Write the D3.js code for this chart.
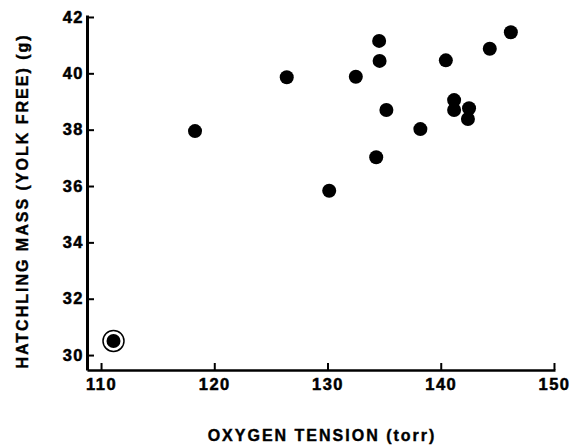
<!DOCTYPE html>
<html>
<head>
<meta charset="utf-8">
<script src="https://cdn.jsdelivr.net/npm/d3@7"></script>
<style>
  body { margin: 0; background: #fff; }
  .axis path, .axis line { stroke: #000; }
  .axis text { font-family: "Liberation Sans", Arial, sans-serif; font-weight: bold; font-size: 16.5px; fill: #000; stroke: #000; stroke-width: 0.5px; letter-spacing: 1.5px; }
  .label { font-family: "Liberation Sans", Arial, sans-serif; font-weight: bold; font-size: 16px; fill: #000; stroke: #000; stroke-width: 0.4px; letter-spacing: 2px; }
</style>
</head>
<body>
<div class="chart"></div>
<script>
// Hatchling mass vs oxygen tension
var oxygen = [118.3, 126.4, 130.15, 132.5, 134.3, 134.56, 134.6, 135.2, 138.2, 140.45, 141.18, 141.18, 142.4, 142.5, 144.33, 146.19];
var mass   = [37.95, 39.86, 35.83, 39.88, 37.02, 41.15, 40.44, 38.70, 38.02, 40.46, 39.05, 38.70, 38.38, 38.76, 40.87, 41.46];

// circled point
var circledOxygen = [111.1];
var circledMass = [30.5];

var xTicks = [110, 120, 130, 140, 150];
var yTicks = [30, 32, 34, 36, 38, 40, 42];

var svg_width = 572,
    svg_height = 445,
    svg = d3.select('.chart').append('svg').attr('width', svg_width).attr('height', svg_height),
    margin = {top: 15, right: 17, bottom: 75, left: 87},
    width = svg_width - margin.left - margin.right,
    height = svg_height - margin.top - margin.bottom;

var g = svg.append('g').attr('transform', 'translate(' + margin.left + ',' + margin.top + ')');

var x = d3.scaleLinear().domain([108.76, 150.09]).range([0, width]);
var y = d3.scaleLinear().domain([29.47, 42.07]).range([height, 0]);

var xAxis = g.append('g').attr('class', 'axis axis-x')
  .attr('transform', 'translate(0,' + height + ')')
  .call(d3.axisBottom(x).tickValues(xTicks).tickFormat(d3.format('d'))
    .tickSizeInner(-7).tickSizeOuter(0).tickPadding(8));
xAxis.select('.domain').attr('stroke-width', 2.5);
xAxis.selectAll('.tick line').attr('stroke-width', 2);

var yAxis = g.append('g').attr('class', 'axis axis-y')
  .call(d3.axisLeft(y).tickValues(yTicks).tickFormat(d3.format('d'))
    .tickSizeInner(-7).tickSizeOuter(0).tickPadding(3));
yAxis.select('.domain').attr('stroke-width', 3);
yAxis.selectAll('.tick line').attr('stroke-width', 2);

var points = oxygen.map(function(d, i) { return {o: d, m: mass[i]}; });

g.selectAll('.dot').data(points)
  .enter().append('circle')
  .attr('class', 'dot')
  .attr('cx', function(d) { return x(d.o); })
  .attr('cy', function(d) { return y(d.m); })
  .attr('r', 7)
  .attr('fill', '#000');

var circled = circledOxygen.map(function(d, i) { return {o: d, m: circledMass[i]}; });

g.selectAll('.ring').data(circled)
  .enter().append('circle')
  .attr('class', 'ring')
  .attr('cx', function(d) { return x(d.o); })
  .attr('cy', function(d) { return y(d.m); })
  .attr('r', 10.5)
  .attr('fill', 'none')
  .attr('stroke', '#000')
  .attr('stroke-width', 1.5);

g.selectAll('.cdot').data(circled)
  .enter().append('circle')
  .attr('class', 'cdot')
  .attr('cx', function(d) { return x(d.o); })
  .attr('cy', function(d) { return y(d.m); })
  .attr('r', 7)
  .attr('fill', '#000');

svg.append('text').attr('class', 'label')
  .attr('x', 322).attr('y', 441)
  .attr('text-anchor', 'middle')
  .text('OXYGEN TENSION (torr)');

svg.append('text').attr('class', 'label')
  .attr('transform', 'translate(28,201) rotate(-90)')
  .attr('text-anchor', 'middle')
  .text('HATCHLING MASS (YOLK FREE) (g)');
</script>
</body>
</html>
